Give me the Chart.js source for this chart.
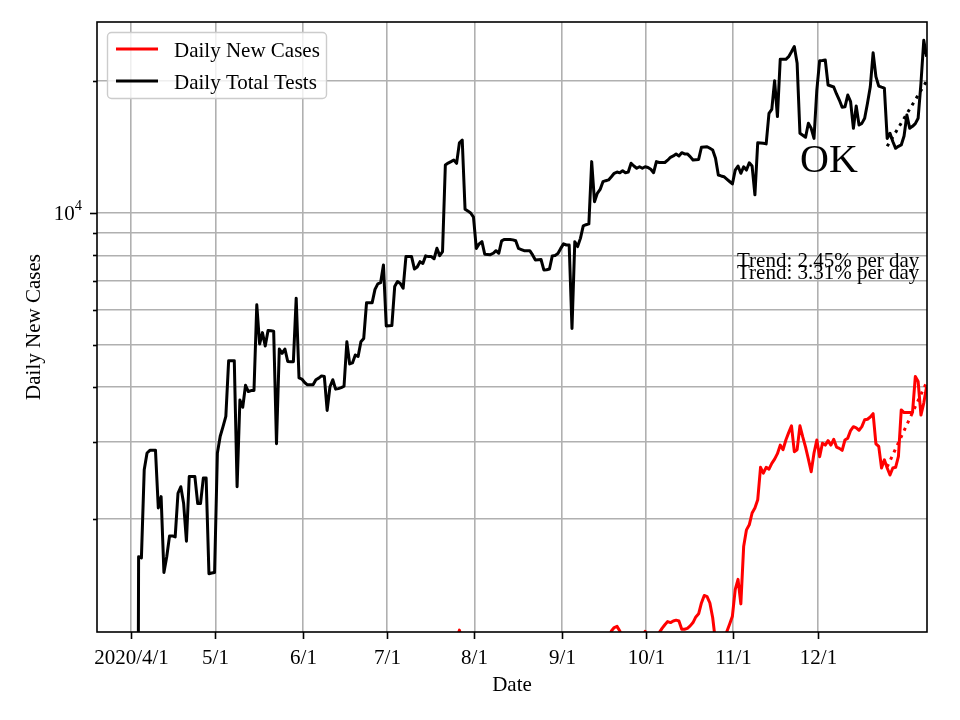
<!DOCTYPE html>
<html>
<head>
<meta charset="utf-8">
<script src="https://cdn.jsdelivr.net/npm/chart.js@4.4.0/dist/chart.umd.min.js"></script>
<style>
    html, body { margin: 0; padding: 0; background: #fff; }
    #wrap { width: 960px; height: 720px; }
</style>
</head>
<body>
<div id="wrap"><canvas id="myChart" width="960" height="720"></canvas></div>
<script>
// days counted from 2020/4/1
const monthTicks = [0, 30, 61, 91, 122, 153, 183, 214, 244];
const monthLabels = ['2020/4/1', '5/1', '6/1', '7/1', '8/1', '9/1', '10/1', '11/1', '12/1'];
const yGridValues = [2000, 3000, 4000, 5000, 6000, 7000, 8000, 9000, 10000, 20000];

// daily values are stamped a little after midnight
const pointShift = 0.7;

const testsFirstDay = 1;
const dailyTests = [
    10, 1640, 1630, 2590, 2830, 2870, 2870, 2870, 2120, 2250,
    1510, 1640, 1830, 1830, 1820, 2290, 2370, 2170, 1780, 2500,
    2500, 2500, 2170, 2170, 2480, 2480, 1500, 1505, 1510, 2830,
    3090, 3250, 3430, 4600, 4600, 4600, 2370, 3740, 3600, 4040,
    3910, 3930, 3930, 6170, 5020, 5330, 4970, 5390, 5380, 5370,
    2970, 4890, 4780, 4890, 4580, 4575, 4575, 6390, 4200, 4175,
    4100, 4050, 4050, 4050, 4160, 4195, 4245, 4230, 3540, 4010,
    4160, 3960, 3970, 3990, 4020, 5080, 4520, 4545, 4740, 4700,
    5080, 5170, 6240, 6240, 6240, 6690, 6890, 6930, 7610, 5520,
    5525, 5530, 6790, 6970, 6900, 6730, 7950, 7950, 7950, 7450,
    7530, 7740, 7670, 7980, 7950, 7950, 7860, 8305, 7990, 8160,
    12870, 13000, 13100, 13210, 12980, 14470, 14680, 10200, 10100, 10000,
    9780, 8300, 8500, 8600, 8050, 8040, 8030, 8090, 8200, 8090,
    8640, 8700, 8700, 8700, 8680, 8640, 8300, 8250, 8200, 8200,
    8200, 8020, 7810, 7820, 7830, 7410, 7420, 7450, 7980, 8000,
    8080, 8300, 8500, 8450, 8450, 5450, 8600, 8380, 8750, 9340,
    9400, 9440, 13100, 10610, 11090, 11320, 11790, 11850, 11900, 12100,
    12320, 12400, 12350, 12480, 12350, 12400, 12985, 12800, 12650, 12750,
    12650, 12750, 12700, 12580, 12360, 13100, 13040, 13040, 13040, 13200,
    13400, 13500, 13640, 13500, 13730, 13640, 13640, 13450, 13210, 13230,
    13250, 14130, 14150, 14170, 14050, 13930, 13340, 12210, 12150, 12100,
    11950, 11800, 11650, 12530, 12800, 12320, 12750, 12530, 13020, 12800,
    11000, 14470, 14450, 14430, 14380, 16890, 17250, 20050, 16600, 22440,
    22440, 22440, 22750, 23340, 23990, 21970, 15210, 15050, 14890, 16030,
    15610, 14800, 19090, 22270, 22300, 22350, 19600, 19500, 19400, 18700,
    18110, 17440, 17480, 18590, 17960, 15610, 17560, 15880, 16020, 16450,
    17800, 19420, 23220, 20480, 19490, 19380, 19280, 14800, 15210, 14560,
    14050, 14200, 14300, 14990, 16740, 15610, 15770, 16000, 16460, 19780,
    24800, 22750
];

const casesFirstDay = 110;
const dailyCases = [
    800, 850, 900, 950, 1000, 1060, 1115, 1050, 1000, 980,
    950, 1000, 960, 900, 920, 880, 850, 900, 860, 800,
    780, 820, 800, 750, 720, 760, 700, 680, 720, 700,
    650, 640, 690, 670, 620, 600, 640, 650, 700, 680,
    720, 750, 700, 760, 800, 780, 720, 830, 860, 900,
    880, 940, 920, 960, 980, 1000, 950, 990, 1030, 1060,
    1110, 1130, 1137, 1110, 1060, 1000, 980, 1020, 1050, 1030,
    1000, 1060, 1108, 1060, 1030, 1050, 1080, 1100, 1125, 1147,
    1166, 1160, 1170, 1175, 1170, 1120, 1120, 1125, 1140, 1160,
    1195, 1215, 1286, 1338, 1330, 1286, 1190, 1050, 940, 900,
    980, 1105, 1150, 1200, 1380, 1456, 1280, 1730, 1889, 1940,
    2064, 2120, 2212, 2625, 2545, 2625, 2600, 2680, 2740, 2820,
    2950, 2880, 3030, 3150, 3265, 2850, 2880, 3265, 3080, 2920,
    2740, 2565, 2830, 3030, 2775, 2980, 2950, 3020, 2950, 3040,
    2920, 2900, 2870, 3030, 3060, 3185, 3250, 3230, 3190, 3250,
    3370, 3380, 3420, 3480, 2970, 2930, 2615, 2730, 2615, 2520,
    2615, 2625, 2780, 3550, 3500, 3500, 3500, 3500, 4230, 4120,
    3455, 3680, 4010
];

// fitted trends over the last two weeks
const trendDays = [268, 282];
const testsTrend = [14200, 20000];
const casesTrend = [2630, 4100];
const trendTexts = ['Trend: 2.45% per day', 'Trend: 3.31% per day'];

const serif = '"Liberation Serif", "Times New Roman", serif';

function toPoints(firstDay, values) {
    return values.map((v, i) => ({ x: firstDay + i + pointShift, y: v }));
}

const decorations = {
    id: 'decorations',
    afterDatasetsDraw(chart) {
        const { ctx, chartArea: a, scales: { x, y } } = chart;
        ctx.save();
        ctx.strokeStyle = '#000';
        ctx.fillStyle = '#000';
        ctx.lineWidth = 1.6;

        // x ticks + labels
        ctx.font = '21px ' + serif;
        ctx.textAlign = 'center';
        ctx.textBaseline = 'alphabetic';
        monthTicks.forEach((d, i) => {
            const px = Math.round(x.getPixelForValue(d)) + 0.5;
            ctx.beginPath();
            ctx.moveTo(px, a.bottom);
            ctx.lineTo(px, a.bottom + 7);
            ctx.stroke();
            ctx.fillText(monthLabels[i], px, a.bottom + 32);
        });

        // y ticks
        yGridValues.forEach(v => {
            const py = Math.round(y.getPixelForValue(v)) + 0.5;
            const len = v === 10000 ? 7 : 4;
            ctx.beginPath();
            ctx.moveTo(a.left - len, py);
            ctx.lineTo(a.left, py);
            ctx.stroke();
        });
        const p4 = y.getPixelForValue(10000);
        ctx.textAlign = 'right';
        ctx.font = '14.5px ' + serif;
        ctx.fillText('4', a.left - 15, p4 - 3);
        const w4 = ctx.measureText('4').width;
        ctx.font = '21px ' + serif;
        ctx.fillText('10', a.left - 15 - w4, p4 + 7.5);

        // axis titles
        ctx.textAlign = 'center';
        ctx.fillText('Date', (a.left + a.right) / 2, 691);
        ctx.save();
        ctx.translate(40, (a.top + a.bottom) / 2);
        ctx.rotate(-Math.PI / 2);
        ctx.fillText('Daily New Cases', 0, 0);
        ctx.restore();

        // frame
        ctx.strokeRect(a.left, a.top, a.right - a.left, a.bottom - a.top);

        // trend notes
        ctx.textAlign = 'left';
        ctx.fillText(trendTexts[0], 737, 267);
        ctx.fillText(trendTexts[1], 737, 278.5);
        ctx.font = '40px ' + serif;
        ctx.fillText('OK', 800, 172);

        // legend
        const lx = a.left + 10.5, ly = a.top + 10.5, lw = 219, lh = 66;
        ctx.beginPath();
        ctx.roundRect(lx, ly, lw, lh, 4);
        ctx.fillStyle = 'rgba(255,255,255,0.8)';
        ctx.fill();
        ctx.strokeStyle = '#cccccc';
        ctx.lineWidth = 1.4;
        ctx.stroke();
        const entries = [['Daily New Cases', '#ff0000', 49], ['Daily Total Tests', '#000000', 81]];
        ctx.font = '21px ' + serif;
        entries.forEach(([label, color, cy]) => {
            ctx.strokeStyle = color;
            ctx.lineWidth = 3;
            ctx.beginPath();
            ctx.moveTo(116, cy);
            ctx.lineTo(158, cy);
            ctx.stroke();
            ctx.fillStyle = '#000';
            ctx.fillText(label, 174, cy + 7.5);
        });
        ctx.restore();
    }
};

const config = {
    type: 'line',
    data: {
        datasets: [
            {
                label: 'Daily New Cases',
                data: toPoints(casesFirstDay, dailyCases),
                borderColor: '#ff0000',
                borderWidth: 3,
                borderJoinStyle: 'round',
                pointRadius: 0,
                tension: 0,
                clip: 0
            },
            {
                label: 'Daily Total Tests',
                data: toPoints(testsFirstDay, dailyTests),
                borderColor: '#000000',
                borderWidth: 3,
                borderJoinStyle: 'round',
                pointRadius: 0,
                tension: 0,
                clip: 0
            },
            {
                label: 'cases trend',
                data: trendDays.map((d, i) => ({ x: d + pointShift, y: casesTrend[i] })),
                borderColor: '#ff0000',
                borderWidth: 3,
                borderDash: [3, 5],
                borderCapStyle: 'butt',
                pointRadius: 0,
                clip: 0
            },
            {
                label: 'tests trend',
                data: trendDays.map((d, i) => ({ x: d + pointShift, y: testsTrend[i] })),
                borderColor: '#000000',
                borderWidth: 3,
                borderDash: [3, 5],
                borderCapStyle: 'butt',
                pointRadius: 0,
                clip: 0
            }
        ]
    },
    options: {
        responsive: false,
        animation: false,
        layout: { padding: { left: 97, top: 22, right: 33, bottom: 88 } },
        plugins: { legend: { display: false }, tooltip: { enabled: false } },
        scales: {
            x: {
                type: 'linear',
                bounds: 'data',
                min: -12.08,
                max: 282.85,
                afterFit: s => { s.height = 0; },
                afterBuildTicks: s => { s.ticks = monthTicks.map(v => ({ value: v })); },
                ticks: { display: false },
                border: { display: false },
                grid: { color: '#b0b0b0', lineWidth: 1.6, drawTicks: false }
            },
            y: {
                type: 'logarithmic',
                bounds: 'data',
                min: 1104,
                max: 27300,
                afterFit: s => { s.width = 0; },
                afterBuildTicks: s => { s.ticks = yGridValues.map(v => ({ value: v, major: v === 10000 })); },
                ticks: { display: false },
                border: { display: false },
                grid: { color: '#b0b0b0', lineWidth: 1.6, drawTicks: false }
            }
        }
    },
    plugins: [decorations]
};

const myChart = new Chart(document.getElementById('myChart'), config);
</script>
</body>
</html>
